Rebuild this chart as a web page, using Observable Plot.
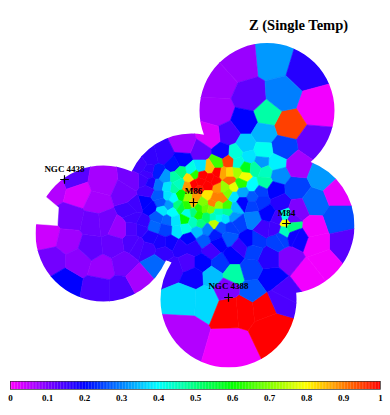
<!DOCTYPE html>
<html>
<head>
<meta charset="utf-8">
<script src="https://cdn.jsdelivr.net/npm/d3@7"></script>
<script src="https://cdn.jsdelivr.net/npm/@observablehq/plot@0.6"></script>
<style>
html,body{margin:0;padding:0;background:#fff;overflow:hidden}
svg{display:block}
</style>
</head>
<body>
<div id="chart"></div>
<script>
// Each cell is [x, y, Z], x and y in map units
const topCells = [[272,60,.32],[305,70,.17],[315,107,.01],[287,125,.95],[266,114,.47],[312,143,.12],[240,63,.08],[218,83,.075],[217,112,.07],[250,97,.125],[281,95,.3],[245,122,.2],[228,135,.14],[210,137,.03],[263,133,.34],[282,148,.25]];
const coreCells = [[200,152,.12],[183,145,.07],[163,155,.16],[150,158,.16],[140,165,.15],[173,165,.21],[182,160,.2],[222,152,.19],[157,172,.22],[147,173,.15],[143,180,.15],[150,183,.18],[165,177,.32],[158,185,.29],[217,163,.65],[228,161,.95],[209,168,.85],[200,167,.38],[191,170,.42],[180,172,.5],[175,177,.47],[189,178,.83],[194,174,.63],[202,175,1],[200,181,1],[210,178,1],[217,172,1],[223,173,.87],[229,173,.83],[237,172,.73],[244,176,.79],[229,180,.92],[233,187,.78],[241,183,.63],[217,187,.88],[207,185,1],[193,184,1],[214,180,1],[224,187,.72],[198,189,.98],[187,186,.88],[207,195,.82],[215,198,.9],[222,198,.9],[212,203,.9],[228,193,.7],[195,197,.88],[187,197,.72],[180,195,.6],[173,188,.47],[178,183,.45],[173,198,.4],[167,187,.38],[167,195,.38],[192,203,.85]];
const innerCells = [[202,202,.7],[218,205,.72],[227,205,.65],[235,207,.35],[233,196,.38],[177,205,.5],[168,205,.32],[160,202,.27],[150,207,.2],[145,202,.2],[162,210,.38],[172,212,.4],[180,207,.55],[187,205,.63],[198,208,.63],[187,213,.42],[193,212,.5],[198,215,.62],[205,208,.68],[210,209,.7],[184,219,.6],[193,222,.45],[200,223,.5],[206,217,.52],[213,217,.45],[214,223,.75],[218,212,.45],[218,217,.42],[227,212,.48],[225,218,.38],[233,217,.32],[157,217,.27],[167,220,.28],[175,220,.38],[177,230,.38],[185,228,.42],[154,226,.28],[165,229,.25],[197,231,.35],[207,229,.3],[220,227,.27],[230,227,.25],[237,222,.25]];
const southCells = [[188,238,.2],[170,242,.19],[203,240,.27],[215,235,.22],[228,237,.27],[218,242,.2],[210,250,.15],[193,247,.17],[180,247,.17],[160,242,.18],[150,237,.18],[140,228,.16],[137,245,.14],[163,252,.16],[147,248,.15],[187,262,.14],[202,262,.2],[220,263,.24],[233,255,.2],[173,267,.15],[155,263,.28],[193,276,.19],[212,275,.35],[133,217,.15],[142,222,.16],[135,205,.15],[132,228,.14],[132,242,.14],[130,210,.15],[147,190,.15],[133,180,.11],[148,170,.16],[158,195,.27]];
const eastCells = [[245,145,.36],[262,151,.41],[235,153,.43],[248,157,.38],[275,163,.39],[261,162,.32],[238,162,.43],[245,167,.58],[255,168,.47],[265,172,.45],[278,175,.31],[252,185,.4],[264,182,.47],[274,189,.2],[260,191,.25],[242,192,.33],[252,197,.27],[242,202,.2],[260,202,.24],[252,205,.25],[280,203,.17],[295,188,.25],[313,202,.28],[297,209,.1],[297,165,.07],[322,175,.32],[338,192,.02],[338,219,.26],[343,243,.13],[315,243,.01],[312,228,.01],[322,262,.01],[308,273,.01],[298,237,.19],[288,257,.1],[270,278,.2],[282,293,.14],[233,273,.47],[250,268,.25],[268,257,.17],[277,240,.25],[255,240,.24],[252,250,.25],[240,247,.16],[248,240,.2],[263,227,.15],[253,218,.3],[267,213,.2],[278,218,.15],[290,218,.12],[285,222,.8],[285,216,.42],[284,231,.45],[291,227,.5],[274,228,.15],[280,238,.25],[294,235,.19]];
const westCells = [[73,178,.13],[53,187,.06],[78,193,.03],[102,183,.07],[97,202,.07],[70,218,.11],[125,193,.11],[47,235,.04],[68,240,.075],[52,260,.11],[65,282,.2],[78,260,.09],[102,267,.08],[90,247,.125],[93,223,.115],[105,222,.11],[118,228,.08],[113,245,.12],[123,263,.11],[98,288,.14],[120,288,.14],[138,278,.07]];
const lowerCells = [[185,297,.37],[205,298,.37],[183,333,.06],[231,347,.01],[271,328,1],[230,308,1],[243,307,1],[262,305,1],[252,291,.27],[280,297,.14],[226,288,.1]];

// Pointings: centre and radius, in map units
const pointingX = [266.5,103,191,286,228];
const pointingY = [110,233,199,225,299];
const pointingR = [67.5,68,66,68,68];

// Missing wedge in the western pointing
const notchX = [45,58,57,30,30];
const notchY = [196,207,225,223,190];

const galaxyNames = ["NGC 4438","M86","M84","NGC 4388"];
const galaxyX = [64,193,286,228];
const galaxyY = [179,202,223,297];
const labelY = [169,191,213,286];

const titleText = "Z (Single Temp)";

const colorDomain = [0,.2,.4,.6,.8,1];
const colorRange = ["#ff00ff","#0000ff","#00ffff","#00ff00","#ffff00","#ff0000"];
const barTicks = [0,.1,.2,.3,.4,.5,.6,.7,.8,.9,1];
const barSteps = d3.range(0,1,0.004);

const cells = [...topCells,...coreCells,...innerCells,...southCells,...eastCells,...westCells,...lowerCells];
const galaxies = galaxyNames.map((name,i)=>({name,x:galaxyX[i],y:galaxyY[i],ly:labelY[i]}));
const color = {type:"linear",domain:colorDomain,range:colorRange,interpolate:"rgb"};
const serif = "'Liberation Serif','Times New Roman',serif";

function clipToPointings(index,scales,values,dims,context,next){
  const g = next(index,scales,values,dims,context);
  const clip = d3.create("svg:clipPath").attr("id","pointings");
  pointingX.forEach((cx,i)=>{
    clip.append("circle")
      .attr("cx",scales.x(cx))
      .attr("cy",scales.y(pointingY[i]))
      .attr("r",scales.x(cx+pointingR[i])-scales.x(cx));
  });
  g.appendChild(clip.node());
  g.setAttribute("clip-path","url(#pointings)");
  return g;
}

const map = Plot.plot({
  width:390,height:370,margin:0,
  x:{domain:[0,390],range:[0,390],axis:null},
  y:{domain:[0,370],range:[0,370],axis:null},
  color,
  style:{background:"#fff",fontFamily:serif,fontWeight:"bold"},
  marks:[
    Plot.voronoi(cells,{x:d=>d[0],y:d=>d[1],fill:d=>d[2],stroke:d=>d[2],strokeWidth:0.6,strokeOpacity:1,render:clipToPointings}),
    Plot.line(notchX.map((x,i)=>({x,y:notchY[i]})),{x:"x",y:"y",fill:"white",stroke:"white",strokeWidth:0.5}),
    Plot.dot(galaxies,{x:"x",y:"y",symbol:"plus",r:2.9,stroke:"black",strokeWidth:1.2}),
    Plot.text(galaxies,{x:"x",y:"ly",text:"name",fontSize:9,fill:"black",fontWeight:"bold"}),
    Plot.text([titleText],{x:[298],y:[25],text:d=>d,fontSize:14.5,fill:"black",fontWeight:"bold"})
  ]
});

const bar = Plot.plot({
  width:390,height:45,marginLeft:10,marginRight:10,marginTop:11,marginBottom:26,
  x:{domain:[0,1]},
  y:{domain:[0,1],axis:null},
  color,
  style:{background:"#fff",fontFamily:serif,fontWeight:"bold",fontSize:"9px",color:"black"},
  marks:[
    Plot.rectY(barSteps,{x1:d=>d,x2:d=>d+0.0045,y1:0,y2:1,fill:d=>d+0.002}),
    Plot.frame({stroke:"#333",strokeWidth:0.7}),
    Plot.axisX({ticks:barTicks,tickSize:0,tickPadding:5,label:null,fontSize:9,tickFormat:d=>String(d)})
  ]
});

document.getElementById("chart").append(map,bar);
</script>
</body>
</html>
